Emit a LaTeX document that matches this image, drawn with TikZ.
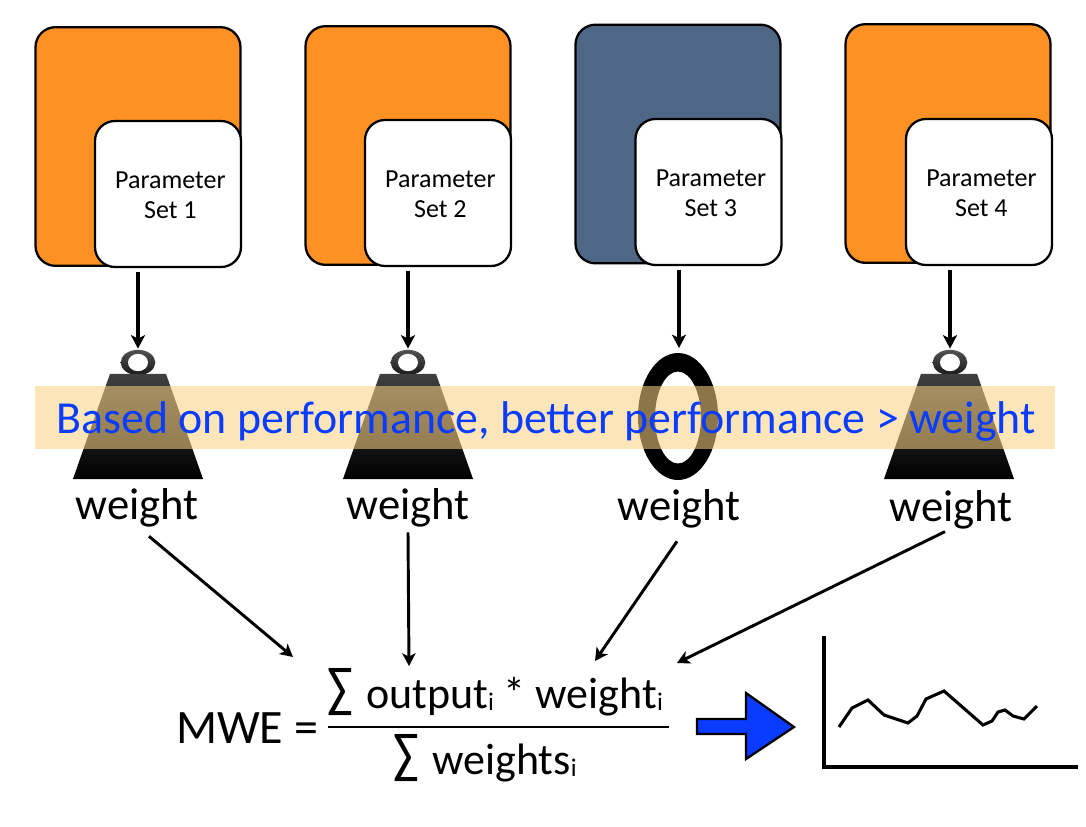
\documentclass[tikz,border=0pt]{standalone}
\usepackage{fontspec}
\setmainfont{Carlito}
\usetikzlibrary{shapes.geometric,arrows.meta}
\definecolor{setorange}{RGB}{253,145,35}
\definecolor{setslate}{RGB}{78,103,133}
\definecolor{bandtan}{RGB}{250,210,130}
\definecolor{textblue}{RGB}{10,60,255}
\newcommand{\bigsum}{\raisebox{1.2pt}{\scalebox{1.08}[1.28]{∑}}\hspace{2.5pt}}
\newcommand{\lowi}{\raisebox{-1.5pt}{\fontsize{19}{19}\selectfont i}}
\begin{document}
\begin{tikzpicture}[
    x=0.75pt, y=-0.75pt,
    back/.style={draw, line width=1.7pt, rounded corners=15pt, minimum width=153.75pt, minimum height=179pt},
    paramset/.style={draw, line width=1.7pt, fill=white, rounded corners=15pt, minimum width=109.5pt, minimum height=109.5pt},
    settext/.style={align=center, inner sep=0pt, xshift=1.8pt, yshift=-0.8pt, font=\fontsize{19.5}{22.5}\selectfont},
    ring/.style={ellipse, inner sep=0pt, minimum width=26pt, minimum height=19pt, top color=black!68, bottom color=black!90},
    hole/.style={ellipse, fill=white, inner sep=0pt, minimum width=15pt, minimum height=13pt},
    mass/.style={trapezium, trapezium left angle=70.6, trapezium right angle=70.6, inner sep=0pt, top color=black!75, bottom color=black},
    label/.style={font=\fontsize{33.5}{33.5}\selectfont, inner sep=0pt, anchor=base},
    feed/.style={-{Stealth[length=10pt,width=10.5pt,inset=2.5pt]}, line width=2.8pt, shorten <=3pt, shorten >=0.75pt},
    link/.style={-{Stealth[length=9.5pt,width=10pt,inset=2.5pt]}, line width=2.2pt},
    bigtext/.style={font=\fontsize{33}{33}\selectfont, inner sep=0pt, anchor=base}
]
\useasboundingbox (0,0) rectangle (1086,826);

\node[back, fill=setorange] (back1) at (138,146.5) {};
\node[back, fill=setorange] (back2) at (408,145.5) {};
\node[back, fill=setslate] (back3) at (678,144) {};
\node[back, fill=setorange] (back4) at (948,143.5) {};
\node[paramset] (set1) at (168,194) {};
\node[paramset] (set2) at (438,193) {};
\node[paramset] (set3) at (708.5,192) {};
\node[paramset] (set4) at (979,192) {};
\node[settext] (text1) at (set1) {Parameter\\Set 1};
\node[settext] (text2) at (set2) {Parameter\\Set 2};
\node[settext] (text3) at (set3) {Parameter\\Set 3};
\node[settext] (text4) at (set4) {Parameter\\Set 4};

\node[ring] (ring1) at (138,362.5) {};
\node[ring] (ring2) at (408,362.5) {};
\node[ring] (ring4) at (950,362.5) {};
\node[hole] (hole1) at (ring1) {};
\node[hole] (hole2) at (ring2) {};
\node[hole] (hole4) at (ring4) {};
\node[mass] (mass1) at (138,426.5) {\phantom{\rule{42pt}{79pt}}};
\node[mass] (mass2) at (408,426.5) {\phantom{\rule{42pt}{79pt}}};
\node[mass] (mass4) at (949,426.5) {\phantom{\rule{42pt}{79pt}}};
\path[fill=black, even odd rule] (678,416.5) ellipse [x radius=40, y radius=63.5] (678,417.5) ellipse [x radius=23, y radius=46];
\coordinate (zero) at (679,349);

\draw[feed] (set1.south -| ring1.north) -- (ring1.north);
\draw[feed] (set2.south -| ring2.north) -- (ring2.north);
\draw[feed] (set3.south -| zero) -- (zero);
\draw[feed] (set4.south -| ring4.north) -- (ring4.north);

% the band goes over the weights
\fill[bandtan, opacity=0.56] (35,386) rectangle (1055,449);
\node[font=\fontsize{34.4}{35}\selectfont, text=textblue, inner sep=0pt, anchor=base] (band) at (546,433) {Based on performance, better performance > weight};

\node[label] (weight1) at (137,519) {weight};
\node[label] (weight2) at (408,519) {weight};
\node[label] (weight3) at (679,520) {weight};
\node[label] (weight4) at (951,521) {weight};

\node[font=\fontsize{36}{36}\selectfont, inner sep=0pt, anchor=base] (mwe) at (247,743) {MWE =};
\node[bigtext] (top) at (495,708) {\bigsum{} output\lowi{} * weight\lowi};
\node[bigtext] (bottom) at (485,774) {\bigsum{} weights\lowi};
\draw[line width=2.2pt] (328,727) -- (669,727);
\coordinate (sum1) at (293,657);
\coordinate (sum2) at (409,666);
\coordinate (sum3) at (595,661);
\coordinate (sum4) at (677,663);

\draw[link] ([xshift=9pt,yshift=-7pt]weight1.south) -- (sum1);
\draw[link] ([yshift=-4pt]weight2.south) -- (sum2);
\draw[link] ([xshift=-1.5pt,yshift=-10pt]weight3.south) -- (sum3);
\draw[link] ([xshift=-4.5pt,yshift=-2pt]weight4.south) -- (sum4);

\draw[fill=textblue, line width=1.7pt] (697,719) -- (746,719) -- (746,693) -- (794,727) -- (746,759) -- (746,734) -- (697,734) -- cycle;

\draw[line width=3pt] (824,636) -- (824,767) -- (1078,767);
\draw[line width=2.3pt] (839,727) -- (852,708) -- (868,700) -- (884,715) -- (908,723) -- (917,716) -- (926,699) -- (944,691) -- (983,725) -- (992,721) -- (998,712) -- (1005,710) -- (1013,716) -- (1024,719) -- (1037,706);
\end{tikzpicture}
\end{document}
